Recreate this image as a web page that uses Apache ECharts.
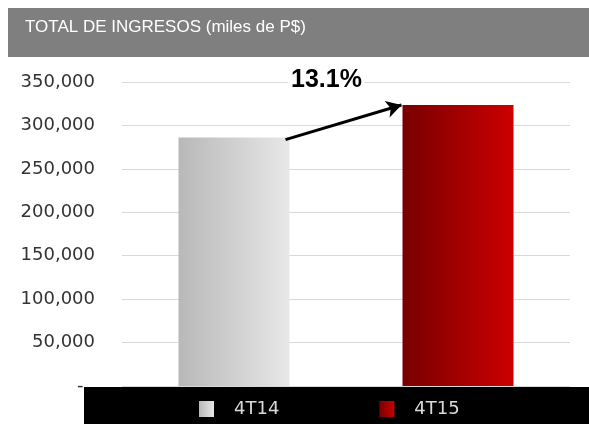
<!DOCTYPE html>
<html>
<head>
<meta charset="utf-8">
<script src="https://cdn.jsdelivr.net/npm/echarts@6/dist/echarts.min.js"></script>
<style>
  html, body { margin: 0; padding: 0; background: #fff; }
  #chart { width: 589px; height: 424px; }
</style>
</head>
<body>
<div id="chart"></div>
<script>
/* ---------------- data ---------------- */
const categories = ['4T14', '4T15'];
const values = [286000, 323500];
const growthLabel = '13.1%';
const yTicks = { min: 0, max: 350000, interval: 50000 };

/* ---------------- styles ---------------- */
const FONT = 'DejaVu Sans';
const barWidth = 111;
const colors = [
  new echarts.graphic.LinearGradient(0, 0, 1, 0, [
    { offset: 0, color: '#b8b8b8' },
    { offset: 1, color: '#e8e8e8' },
  ]),
  new echarts.graphic.LinearGradient(0, 0, 1, 0, [
    { offset: 0, color: '#780000' },
    { offset: 1, color: '#cc0000' },
  ]),
];

const chart = echarts.init(document.getElementById('chart'));

const series = categories.map((name, i) => ({
  name,
  type: 'bar',
  barWidth,
  barGap: '-100%',
  itemStyle: { color: colors[i] },
  data: categories.map((_, j) => (j === i ? values[i] : null)),
}));

chart.setOption({
  animation: false,
  grid: { left: 122, right: 19, top: 82, bottom: 38 },
  xAxis: {
    type: 'category',
    data: categories,
    axisLine: { show: false },
    axisTick: { show: false },
    axisLabel: { show: false },
  },
  yAxis: {
    type: 'value',
    min: yTicks.min,
    max: yTicks.max,
    interval: yTicks.interval,
    axisLine: { show: false },
    axisTick: { show: false },
    splitLine: { lineStyle: { color: '#d9d9d9', width: 1 } },
    axisLabel: {
      margin: 27,
      color: '#333',
      fontFamily: FONT,
      fontSize: 18,
      formatter: (v) => (v === 0 ? '-  ' : v.toLocaleString('en-US')),
    },
  },
  legend: {
    left: 199,
    top: 400,
    padding: 0,
    itemWidth: 15,
    itemHeight: 16,
    itemGap: 100,
    icon: 'rect',
    textStyle: { color: '#d9d9d9', fontFamily: FONT, fontSize: 18, padding: [0, 0, 0, 15] },
    data: categories,
  },
  graphic: [
    { type: 'rect', z: -1, shape: { x: 8, y: 8, width: 581, height: 49 }, style: { fill: '#7f7f7f' } },
    {
      type: 'text', left: 25, top: 19,
      style: {
        text: 'TOTAL DE INGRESOS (miles de P$)', fill: '#fff',
        fontFamily: 'Liberation Sans', fontSize: 17,
      },
    },
    { type: 'rect', z: 0, shape: { x: 84, y: 387, width: 505, height: 37 }, style: { fill: '#000' } },
  ],
  series,
});

/* ---------------- arrow + growth label ---------------- */
const p1 = chart.convertToPixel({ gridIndex: 0 }, [0, values[0]]);
const p2 = chart.convertToPixel({ gridIndex: 0 }, [1, values[1]]);
const start = [p1[0] + barWidth / 2 - 4, p1[1] + 2];
const end = [p2[0] - barWidth / 2 - 1, p2[1]];

chart.setOption({
  series: [{
    markLine: {
      silent: true,
      symbol: ['none', 'arrow'],
      symbolSize: [13, 15],
      label: { show: false },
      lineStyle: { color: '#000', width: 3, type: 'solid' },
      data: [[{ x: start[0], y: start[1] }, { x: end[0], y: end[1] }]],
    },
  }],
  graphic: [
    {}, {}, {},
    {
      type: 'rect', z: 10,
      shape: { x: (start[0] + end[0]) / 2 - 55, y: end[1] - 35, width: 76, height: 22 },
      style: { fill: '#fff' },
    },
    {
      type: 'text', z: 11,
      x: (start[0] + end[0]) / 2 - 17,
      y: end[1] - 25,
      style: {
        text: growthLabel, fill: '#000',
        fontFamily: 'Liberation Sans', fontWeight: 'bold', fontSize: 25,
        align: 'center', verticalAlign: 'middle',
      },
    },
  ],
});
</script>
</body>
</html>
